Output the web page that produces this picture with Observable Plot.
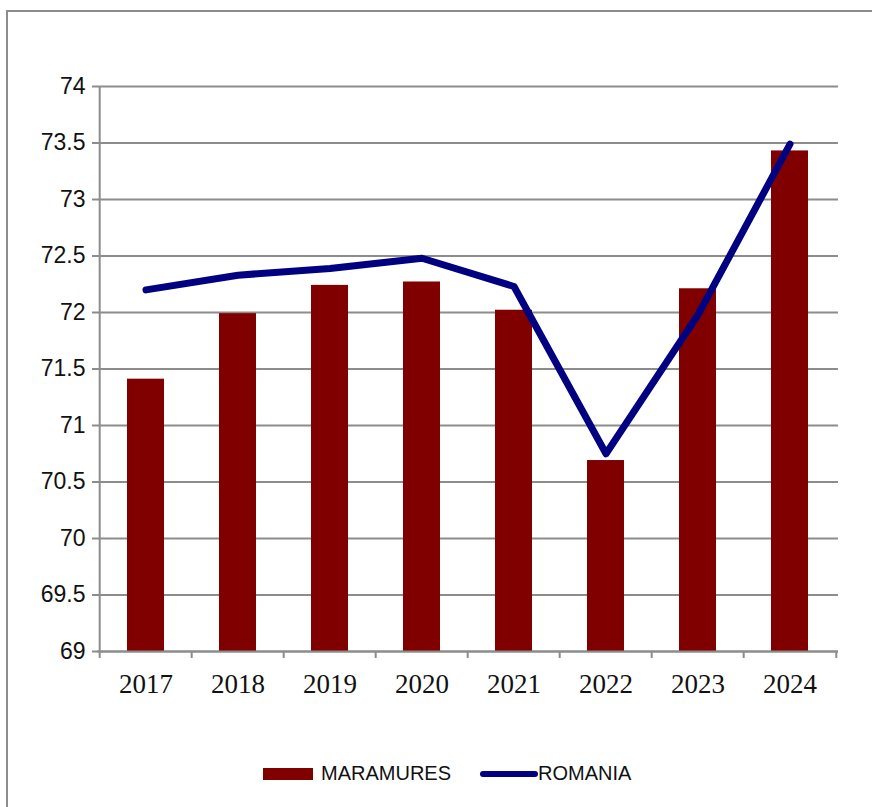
<!DOCTYPE html>
<html>
<head>
<meta charset="utf-8">
<script src="https://cdn.jsdelivr.net/npm/d3@7"></script>
<script src="https://cdn.jsdelivr.net/npm/@observablehq/plot@0.6"></script>
<style>
  html, body { margin: 0; padding: 0; background: #fff; overflow: hidden; width: 872px; height: 807px; }
  #frame { position: absolute; left: 6px; top: 10px; width: 866px; height: 797px; border-left: 2px solid #8c8c8c; border-top: 2px solid #8c8c8c; box-sizing: border-box; }
  #chart { position: absolute; left: 0; top: 0; }
  #legend { position: absolute; left: 0; top: 760px; width: 872px; height: 28px; font-family: "Liberation Sans", Arial, sans-serif; font-size: 20px; color: #111; }
  .sw { position: absolute; }
  .lab { position: absolute; top: 2px; }
</style>
</head>
<body>
<div id="frame"></div>
<div id="chart"></div>
<div id="legend">
  <div class="sw" style="left:263px; top:8px; width:50px; height:12px; background:#800000;"></div>
  <div class="lab" style="left:321px;">MARAMURES</div>
  <div class="sw" style="left:480px; top:11px; width:58px; height:6px; border-radius:3px; background:#000080;"></div>
  <div class="lab" style="left:538px;">ROMANIA</div>
</div>
<script>
const years = ["2017", "2018", "2019", "2020", "2021", "2022", "2023", "2024"];
const maramures = [71.41, 71.99, 72.24, 72.27, 72.02, 70.69, 72.21, 73.43];
const romania = [72.2, 72.33, 72.39, 72.48, 72.23, 70.75, 71.98, 73.49];
const yTicks = [69, 69.5, 70, 70.5, 71, 71.5, 72, 72.5, 73, 73.5, 74];
const yMin = 69, yMax = 74;

const W = 872, H = 720;
const mL = 97, mR = 34, mT = 86, mB = H - 651;
const step = (W - mL - mR) / years.length;

const data = years.map((y, i) => ({year: y, m: maramures[i], r: romania[i]}));
const gray = "#8c8c8c";

const chart = Plot.plot({
  width: W,
  height: H,
  marginLeft: mL,
  marginRight: mR,
  marginTop: mT,
  marginBottom: mB,
  x: {domain: years, paddingInner: 0.6, paddingOuter: 0.3, align: 0.5},
  y: {domain: [yMin, yMax]},
  marks: [
    Plot.gridY(yTicks, {stroke: gray, strokeOpacity: 1, strokeWidth: 2}),
    Plot.axisY(yTicks, {
      tickSize: 5, tickPadding: 7, stroke: gray, strokeWidth: 2, label: null,
      tickFormat: d => String(d),
      fontSize: 23, fontFamily: "Liberation Sans, Arial, sans-serif", fill: "#111"
    }),
    Plot.axisX({
      tickSize: 0, tickPadding: 22, label: null,
      fontSize: 27, fontFamily: "Liberation Serif, Times New Roman, serif", fill: "#111"
    }),
    Plot.barY(data, {x: "year", y1: yMin, y2: "m", fill: "#800000"}),
    Plot.ruleY([yMin], {stroke: gray, strokeWidth: 2}),
    Plot.ruleX([years[0]], {x: d => d, y1: yMin, y2: yMax, dx: -step / 2, stroke: gray, strokeWidth: 2}),
    Plot.ruleX(years, {x: d => d, y1: yMin, y2: yMin, insetBottom: -7, dx: -step / 2, stroke: gray, strokeWidth: 2}),
    Plot.ruleX([years[years.length - 1]], {x: d => d, y1: yMin, y2: yMin, insetBottom: -7, dx: step / 2, stroke: gray, strokeWidth: 2}),
    Plot.line(data, {x: "year", y: "r", stroke: "#000080", strokeWidth: 7, strokeLinecap: "round", strokeLinejoin: "round"})
  ]
});
document.getElementById("chart").appendChild(chart);
</script>
</body>
</html>
